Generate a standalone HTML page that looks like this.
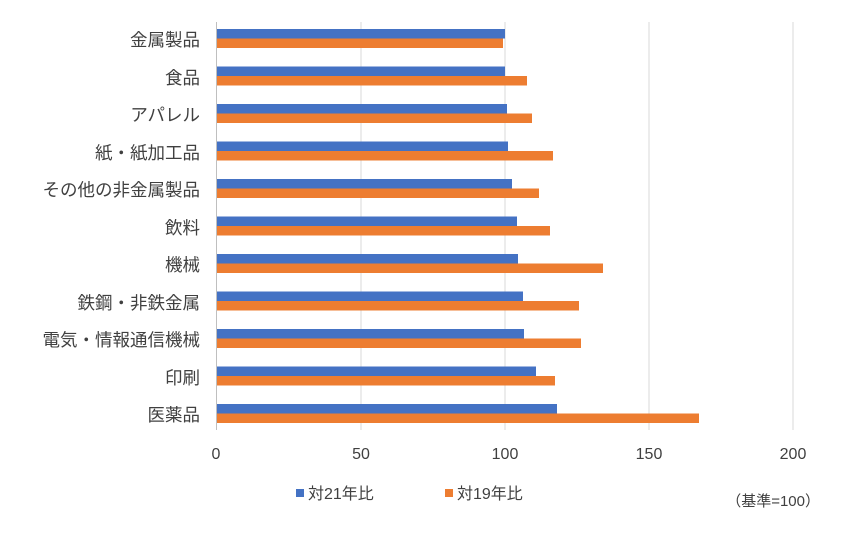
<!DOCTYPE html>
<html><head><meta charset="utf-8"><style>
body{margin:0;background:#fff;}
svg text{font-family:"Liberation Sans","Noto Sans CJK JP",sans-serif;fill:#404040;}
</style></head><body>
<svg width="844" height="528" xmlns="http://www.w3.org/2000/svg">
<rect width="844" height="528" fill="#fff"/>
<g stroke="#d9d9d9" stroke-width="1">
<line x1="361" y1="22" x2="361" y2="430"/>
<line x1="505" y1="22" x2="505" y2="430"/>
<line x1="649" y1="22" x2="649" y2="430"/>
<line x1="793" y1="22" x2="793" y2="430"/>
</g>
<line x1="216.5" y1="22" x2="216.5" y2="430" stroke="#bfbfbf"/>
<g font-size="16" text-anchor="middle">
<text x="216" y="459">0</text><text x="361" y="459">50</text><text x="505" y="459">100</text><text x="649" y="459">150</text><text x="793" y="459">200</text>
</g>
<g font-size="17.5" text-anchor="end">
<text x="200" y="46">金属製品</text>
<text x="200" y="84">食品</text>
<text x="200" y="121">アパレル</text>
<text x="200" y="159">紙・紙加工品</text>
<text x="200" y="196">その他の非金属製品</text>
<text x="200" y="234">飲料</text>
<text x="200" y="271">機械</text>
<text x="200" y="309">鉄鋼・非鉄金属</text>
<text x="200" y="346">電気・情報通信機械</text>
<text x="200" y="384">印刷</text>
<text x="200" y="421">医薬品</text>
</g>
<g fill="#4472C4">
<rect x="217" y="29" width="288" height="9.5"/>
<rect x="217" y="66.5" width="288" height="9.5"/>
<rect x="217" y="104" width="290" height="9.5"/>
<rect x="217" y="141.5" width="291" height="9.5"/>
<rect x="217" y="179" width="295" height="9.5"/>
<rect x="217" y="216.5" width="300" height="9.5"/>
<rect x="217" y="254" width="301" height="9.5"/>
<rect x="217" y="291.5" width="306" height="9.5"/>
<rect x="217" y="329" width="307" height="9.5"/>
<rect x="217" y="366.5" width="319" height="9.5"/>
<rect x="217" y="404" width="340" height="9.5"/>
</g>
<g fill="#ED7D31">
<rect x="217" y="38.5" width="286" height="9.5"/>
<rect x="217" y="76" width="310" height="9.5"/>
<rect x="217" y="113.5" width="315" height="9.5"/>
<rect x="217" y="151" width="336" height="9.5"/>
<rect x="217" y="188.5" width="322" height="9.5"/>
<rect x="217" y="226" width="333" height="9.5"/>
<rect x="217" y="263.5" width="386" height="9.5"/>
<rect x="217" y="301" width="362" height="9.5"/>
<rect x="217" y="338.5" width="364" height="9.5"/>
<rect x="217" y="376" width="338" height="9.5"/>
<rect x="217" y="413.5" width="482" height="9.5"/>
</g>
<rect x="296" y="489" width="8" height="8" fill="#4472C4"/>
<text x="308" y="499" font-size="16">対21年比</text>
<rect x="445" y="489" width="8" height="8" fill="#ED7D31"/>
<text x="457" y="499" font-size="16">対19年比</text>
<text x="820" y="506" font-size="15" text-anchor="end">（基準=100）</text>
</svg>
</body></html>
